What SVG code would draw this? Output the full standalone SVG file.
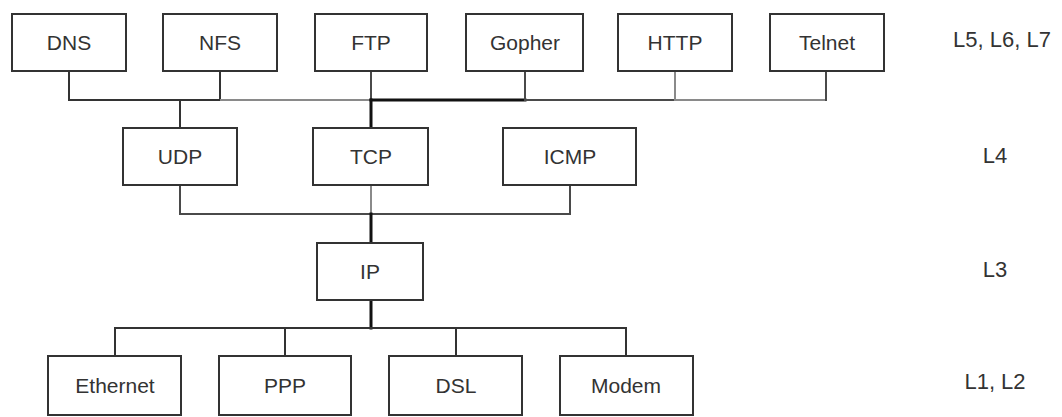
<svg xmlns="http://www.w3.org/2000/svg" width="1062" height="417" viewBox="0 0 1062 417">
  <style>
    .box rect { fill: #ffffff; stroke: #333333; stroke-width: 2; }
    .box text { font-family: "Liberation Sans", Arial, sans-serif; font-size: 21px; fill: #333333; text-anchor: middle; }
    .layer { font-family: "Liberation Sans", Arial, sans-serif; font-size: 22px; fill: #333333; text-anchor: middle; }
    .wire { fill: none; stroke: #333333; stroke-width: 2; stroke-linecap: square; }
    .light { stroke: #8a8a8a; }
    .mid { stroke: #4a4a4a; }
    .bold { stroke: #111111; stroke-width: 3; }
  </style>

  <rect width="1062" height="417" fill="#ffffff"/>

  <!-- connectors -->
  <g id="connectors">
    <!-- application layer bus -->
    <path class="wire" d="M69 71 V100 H220"/>
    <path class="wire" d="M220 71 V100"/>
    <path class="wire light" d="M221 100 H369"/>
    <path class="wire mid" d="M371 71 V100"/>
    <path class="wire bold" d="M371 100 H525"/>
    <path class="wire mid" d="M525 71 V100"/>
    <path class="wire mid" d="M526 100 H675"/>
    <path class="wire light" d="M675 71 V100"/>
    <path class="wire light" d="M676 100 H826"/>
    <path class="wire mid" d="M826 71 V100"/>
    <!-- down to transport -->
    <path class="wire" d="M180 100 V128"/>
    <path class="wire bold" d="M371 100 V128"/>
    <!-- transport bus -->
    <path class="wire mid" d="M180 185 V214 H570 V185"/>
    <path class="wire light" d="M371 185 V214"/>
    <path class="wire bold" d="M371 214 V243"/>
    <!-- link layer bus -->
    <path class="wire bold" d="M371 300 V328"/>
    <path class="wire" d="M115 356 V328 H626 V356"/>
    <path class="wire" d="M285 328 V356"/>
    <path class="wire" d="M456 328 V356"/>
  </g>

  <!-- application protocols -->
  <g id="dns" class="box"><rect x="12" y="14" width="114" height="57"/><text x="69" y="50">DNS</text></g>
  <g id="nfs" class="box"><rect x="163" y="14" width="114" height="57"/><text x="220" y="50">NFS</text></g>
  <g id="ftp" class="box"><rect x="315" y="14" width="112" height="57"/><text x="371" y="50">FTP</text></g>
  <g id="gopher" class="box"><rect x="466" y="14" width="117" height="57"/><text x="525" y="50">Gopher</text></g>
  <g id="http" class="box"><rect x="618" y="14" width="114" height="57"/><text x="675" y="50">HTTP</text></g>
  <g id="telnet" class="box"><rect x="770" y="14" width="114" height="57"/><text x="827" y="50">Telnet</text></g>

  <!-- transport protocols -->
  <g id="udp" class="box"><rect x="123" y="128" width="114" height="57"/><text x="180" y="164">UDP</text></g>
  <g id="tcp" class="box"><rect x="313" y="128" width="115" height="57"/><text x="371" y="164">TCP</text></g>
  <g id="icmp" class="box"><rect x="503" y="128" width="133" height="57"/><text x="570" y="164">ICMP</text></g>

  <!-- network protocol -->
  <g id="ip" class="box"><rect x="317" y="243" width="106" height="57"/><text x="370" y="279">IP</text></g>

  <!-- link / physical -->
  <g id="ethernet" class="box"><rect x="48" y="356" width="133" height="59"/><text x="115" y="393">Ethernet</text></g>
  <g id="ppp" class="box"><rect x="219" y="356" width="132" height="59"/><text x="285" y="393">PPP</text></g>
  <g id="dsl" class="box"><rect x="389" y="356" width="133" height="59"/><text x="456" y="393">DSL</text></g>
  <g id="modem" class="box"><rect x="560" y="356" width="133" height="59"/><text x="626" y="393">Modem</text></g>

  <!-- layer labels -->
  <g id="layers">
    <text class="layer" x="1002" y="47">L5, L6, L7</text>
    <text class="layer" x="995" y="163">L4</text>
    <text class="layer" x="995" y="277">L3</text>
    <text class="layer" x="995" y="389">L1, L2</text>
  </g>
</svg>
